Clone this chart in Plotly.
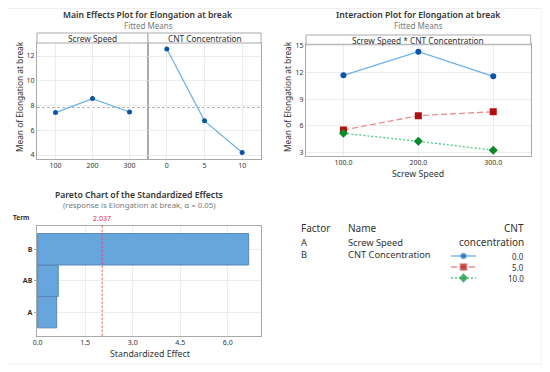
import plotly.graph_objects as go

# page body has an 8px margin: figure occupies the window minus that offset
OX, OY = 8, 8
W, H = 550 - OX, 372 - OY
def px(x): return (x - OX) / W
def py(y): return 1 - (y - OY) / H

# ---------------- data ----------------
screw_speed = [100, 200, 300]
cnt_levels = [0, 5, 10]
main_screw_means = [7.43, 8.56, 7.48]
main_cnt_means = [12.56, 6.76, 4.20]
inter_cnt0 = [11.69, 14.36, 11.58]
inter_cnt5 = [5.52, 7.13, 7.58]
inter_cnt10 = [5.14, 4.24, 3.23]
cnt_labels = ["0.0", "5.0", "10.0"]
terms = ["A", "AB", "B"]
std_effects = [0.60, 0.65, 6.66]
t_crit = 2.037
factor_codes = ["A", "B"]
factor_names = ["Screw Speed", "CNT Concentration"]
grand_mean = sum(main_cnt_means) / len(main_cnt_means)

FONT = "Noto Sans"
TXT = "#333333"
GRID = "#ECECEC"
BOX = "#A9A9A9"

BLUE_L, BLUE_M = "#6CB2E6", "#0B55A8"
RED_L, RED_M = "#E98C8C", "#B20E0E"
GRN_L, GRN_M = "#4CC98A", "#0A8A2A"
series_style = [
    dict(line=dict(color=BLUE_L, width=1.3, dash="solid"), marker=dict(color=BLUE_M, symbol="circle", size=6)),
    dict(line=dict(color=RED_L, width=1.3, dash="6px,3px"), marker=dict(color=RED_M, symbol="square", size=7)),
    dict(line=dict(color=GRN_L, width=1.3, dash="2px,2px"), marker=dict(color=GRN_M, symbol="diamond", size=7)),
]

fig = go.Figure()

# Main effects
fig.add_trace(go.Scatter(x=screw_speed, y=main_screw_means, mode="lines+markers",
                         line=dict(color=BLUE_L, width=1.2), marker=dict(color=BLUE_M, size=5),
                         xaxis="x", yaxis="y", showlegend=False))
fig.add_trace(go.Scatter(x=cnt_levels, y=main_cnt_means, mode="lines+markers",
                         line=dict(color=BLUE_L, width=1.2), marker=dict(color=BLUE_M, size=5),
                         xaxis="x2", yaxis="y2", showlegend=False))

# Interaction
for vals, st, nm in zip([inter_cnt0, inter_cnt5, inter_cnt10], series_style, cnt_labels):
    fig.add_trace(go.Scatter(x=screw_speed, y=vals, mode="lines+markers", name=nm,
                             line=st["line"], marker=st["marker"],
                             xaxis="x3", yaxis="y3", showlegend=False))

# Pareto
fig.add_trace(go.Bar(x=std_effects, y=terms, orientation="h", width=1.0,
                     marker=dict(color="#66A6DC", line=dict(color="#5A86B5", width=1)),
                     xaxis="x4", yaxis="y4", showlegend=False))

# Legend glyphs (hidden pixel-space axis)
leg_rows = [256, 267, 278]
for st, yy in zip(series_style, leg_rows):
    fig.add_trace(go.Scatter(x=[451, 463.5, 476], y=[yy, yy, yy], mode="lines+markers",
                             line=st["line"],
                             marker=dict(color=st["marker"]["color"], symbol=st["marker"]["symbol"],
                                         size=[0, st["marker"]["size"], 0]),
                             xaxis="x5", yaxis="y5", showlegend=False, hoverinfo="skip"))

tickf = dict(family=FONT, size=7, color=TXT)
common = dict(showline=True, linecolor=BOX, linewidth=1, mirror=True, showgrid=True, gridcolor=GRID,
              zeroline=False, ticks="", tickfont=tickf, automargin=False)

fig.update_layout(
    width=W, height=H, margin=dict(l=0, r=0, t=0, b=0, autoexpand=False),
    paper_bgcolor="white", plot_bgcolor="rgba(0,0,0,0)",
    font=dict(family=FONT, color=TXT),
    xaxis=dict(domain=[px(37), px(148)], range=[50, 350], tickvals=screw_speed, anchor="y", **common),
    yaxis=dict(domain=[py(159), py(43)], range=[3.68, 13.05], tickvals=[4, 6, 8, 10, 12], anchor="x", **common),
    xaxis2=dict(domain=[px(148), px(261)], range=[-2.5, 12.5], tickvals=cnt_levels, anchor="y2", **common),
    yaxis2=dict(domain=[py(159), py(43)], range=[3.68, 13.05], tickvals=[4, 6, 8, 10, 12], anchor="x2",
                showticklabels=False, **common),
    xaxis3=dict(domain=[px(306), px(530.7)], range=[50, 350], tickvals=screw_speed,
                ticktext=["100.0", "200.0", "300.0"], anchor="y3", **common),
    yaxis3=dict(domain=[py(156), py(44.3)], range=[2.58, 15.19], tickvals=[3, 6, 9, 12, 15], anchor="x3", **common),
    xaxis4=dict(domain=[px(36.7), px(261)], range=[-0.03, 7.05], tickvals=[0, 1.5, 3, 4.5, 6],
                ticktext=["0.0", "1.5", "3.0", "4.5", "6.0"], anchor="y4", **common),
    yaxis4=dict(domain=[py(335.7), py(225.7)], range=[-0.75, 2.75], anchor="x4",
                **{k: v for k, v in common.items() if k not in ("tickfont", "ticks")},
                ticks="outside", ticklen=2, tickcolor=BOX,
                tickfont=dict(family=FONT, size=7, color=TXT, weight="bold")),
    xaxis5=dict(domain=[px(440), px(490)], range=[440, 490], visible=False, anchor="y5", automargin=False),
    yaxis5=dict(domain=[py(285), py(250)], range=[285, 250], visible=False, anchor="x5", automargin=False),
)

shapes = []
# strips
for x0, x1, y0, y1 in [(37, 148, 33, 43), (148, 261, 33, 43), (306, 530.7, 35, 44.3)]:
    shapes.append(dict(type="rect", xref="paper", yref="paper", x0=px(x0), x1=px(x1), y0=py(y1), y1=py(y0),
                       line=dict(color=BOX, width=1), fillcolor="white"))
# grand mean reference
shapes.append(dict(type="line", xref="paper", yref="y", x0=px(37), x1=px(261), y0=grand_mean, y1=grand_mean,
                   line=dict(color="#B5B5B5", width=1, dash="3px,2px"), layer="below"))
# critical value line
shapes.append(dict(type="line", xref="x4", yref="paper", x0=t_crit, x1=t_crit, y0=py(335.7), y1=py(225.7),
                   line=dict(color="#E8474C", width=1, dash="2px,2px")))
# faint frame
for x0, y0, x1, y1 in [(8, 8.5, 542, 8.5), (542, 8, 542, 364), (8, 364, 542, 364)]:
    shapes.append(dict(type="line", xref="paper", yref="paper", x0=px(x0), y0=py(y0), x1=px(x1), y1=py(y1),
                       line=dict(color="#EFEFEF", width=1)))
fig.update_layout(shapes=shapes)

ann = []
def A(text, x, y, size, color=TXT, weight="normal", xanchor="center", angle=0):
    ann.append(dict(text=text, x=px(x), y=py(y), xref="paper", yref="paper", showarrow=False,
                    xanchor=xanchor, yanchor="middle", textangle=angle,
                    font=dict(family=FONT, size=size, color=color, weight=weight)))

A("Main Effects Plot for Elongation at break", 148, 14.8, 8.6, weight=600)
A("Fitted Means", 148, 25.6, 8, color="#7A7A7A")
A("Screw Speed", 92.5, 38.5, 8.3)
A("CNT Concentration", 204.5, 38.5, 8.3)
A("Mean of Elongation at break", 19, 97, 8.3, angle=-90)

A("Interaction Plot for Elongation at break", 418, 14.8, 8.6, weight=600)
A("Fitted Means", 418, 25.6, 8, color="#7A7A7A")
A("Screw Speed * CNT Concentration", 418, 40, 8.3)
A("Mean of Elongation at break", 287, 97, 8.3, angle=-90)
A("Screw Speed", 418, 174.5, 8.8)

A("Pareto Chart of the Standardized Effects", 139, 195.3, 8.6, weight=600)
A("(response is Elongation at break, α = 0.05)", 139, 205.5, 7.8, color="#7A7A7A")
A("Term", 21, 218, 6.5, weight="bold")
A(f"{t_crit:.3f}", 101.7, 218.5, 7, color="#E0242A")
A("Standardized Effect", 150, 354, 8.8)

# factor table
A("Factor", 299, 228.5, 10, xanchor="left")
A("Name", 345.7, 228.5, 10, xanchor="left")
for code, name, yy in zip(factor_codes, factor_names, [242.3, 254.7]):
    A(code, 299, yy, 9.3, xanchor="left")
    A(name, 345.7, yy, 9.3, xanchor="left")
A("CNT", 525.7, 228.5, 10, xanchor="right")
A("concentration", 525.7, 242.3, 10, xanchor="right")
for lab, yy in zip(cnt_labels, leg_rows):
    A(lab, 525.7, yy, 8, xanchor="right")

fig.update_layout(annotations=ann)
fig.write_html("out.html")
